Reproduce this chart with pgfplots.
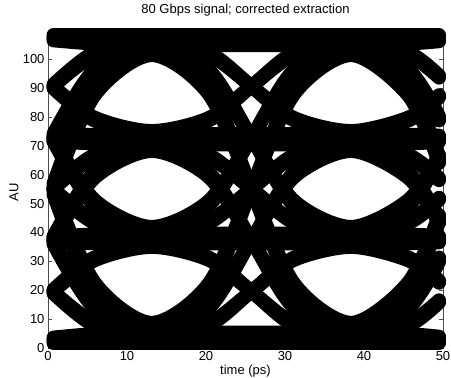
\documentclass[border=0pt]{standalone}
\usepackage{pgfplots}
\pgfplotsset{compat=1.18}
\usepackage{pgfplotstable}
\usepackage{fontspec}
\setmainfont{Liberation Sans}
\pgfplotsset{tr/.style={black, line width=14pt, line cap=round, line join=round, smooth, tension=0.5}}
\newcommand{\lab}{\fontsize{13}{15}\selectfont}

% family 1: symbol pattern A,B,A,B
\pgfplotstableread{
t     c01  c02  c03   c10  c12  c13   c20  c21  c23   c30   c31   c32
0.7   19.6 37.4 55.1  19.5 55.1 72.9  37.2 55.0 90.6  55.0  72.7  90.5
5.85  30.3 58.8 87.3  8.8  65.8 94.3  15.8 44.3 101.3 22.8  51.3  79.8
13.1  35.0 68.2 101.4 4.1  70.5 103.7 6.4  39.6 106.0 8.7   41.9  75.1
20.35 30.5 59.2 87.9  8.6  66.0 94.7  15.4 44.1 101.5 22.3  50.9  79.6
25.75 19.6 37.3 55.1  19.6 55.1 72.8  37.3 55.1 90.6  55.1  72.8  90.6
31.15 8.6  15.4 22.3  30.5 44.1 50.9  59.2 66.0 79.6  87.9  94.7  101.5
38.4  4.1  6.4  8.7   35.0 39.6 41.9  68.2 70.5 75.1  101.4 103.7 106.0
45.65 8.8  15.8 22.8  30.3 44.3 51.3  58.8 65.8 79.8  87.3  94.3  101.3
49.5  16.5 31.3 46.0  22.6 52.0 66.8  43.3 58.1 87.5  64.1  78.8  93.6
}\fone

% family 2: symbol pattern A,A,B,B
\pgfplotstableread{
t     c01  c02  c03   c10  c12  c13   c20  c21  c23   c30   c31   c32
0.7   2.4  3.0  3.6   36.7 37.9 38.5  71.6 72.2 73.4  106.5 107.1 107.7
5.85  2.8  3.8  4.8   36.3 38.3 39.3  70.8 71.8 73.8  105.4 106.3 107.3
13.1  3.0  4.1  5.3   36.2 38.5 39.6  70.5 71.7 74.0  104.8 106.0 107.2
20.35 7.8  13.8 19.8  31.3 43.3 49.3  60.8 66.8 78.8  90.3  96.3  102.3
25.75 19.6 37.3 55.1  19.6 55.1 72.8  37.3 55.1 90.6  55.1  72.8  90.6
31.15 31.3 60.8 90.3  7.8  66.8 96.3  13.8 43.3 102.3 19.8  49.3  78.8
38.4  36.2 70.5 104.8 3.0  71.7 106.0 4.1  38.5 107.2 5.3   39.6  74.0
45.65 36.3 70.8 105.4 2.8  71.8 106.3 3.8  38.3 107.3 4.8   39.3  73.8
49.5  36.6 71.4 106.2 2.5  72.1 106.9 3.2  38.0 107.6 3.9   38.7  73.5
}\ftwo

% family 3: symbol pattern A,B,B,A
\pgfplotstableread{
t     c01  c02  c03   c10  c12  c13   c20  c21  c23   c30   c31   c32
0.7   20.2 38.6 56.9  18.9 55.7 74.1  36.0 54.4 91.2  53.2  71.5  89.9
5.85  31.3 60.8 90.3  7.8  66.8 96.3  13.8 43.3 102.3 19.8  49.3  78.8
13.1  36.2 70.5 104.8 3.0  71.7 106.0 4.1  38.5 107.2 5.3   39.6  74.0
20.35 36.2 70.5 104.8 3.0  71.7 106.0 4.1  38.5 107.2 5.3   39.6  74.0
25.75 36.2 70.5 104.8 3.0  71.7 106.0 4.1  38.5 107.2 5.3   39.6  74.0
31.15 36.2 70.5 104.8 3.0  71.7 106.0 4.1  38.5 107.2 5.3   39.6  74.0
38.4  36.2 70.5 104.8 3.0  71.7 106.0 4.1  38.5 107.2 5.3   39.6  74.0
45.65 31.3 60.8 90.3  7.8  66.8 96.3  13.8 43.3 102.3 19.8  49.3  78.8
49.5  23.3 44.7 66.2  15.8 58.8 80.2  29.9 51.3 94.3  43.9  65.4  86.8
}\fthree

% flat levels
\pgfplotstableread{
t    l0  l1   l2   l3
0.7  1.8 37.3 72.8 108.3
49.5 1.8 37.3 72.8 108.3
}\flat

\begin{document}
\begin{tikzpicture}
\path[use as bounding box] (-48pt,-30pt) rectangle (403pt,348pt);
\begin{axis}[
  at={(0pt,0pt)}, anchor=south west,
  scale only axis, width=395pt, height=312pt,
  xmin=0, xmax=50, ymin=0, ymax=108,
  clip=false,
  xtick={0,10,...,50}, ytick={0,10,...,100},
  tick align=inside, major tick length=4pt,
  every tick/.style={black!70, line width=0.4pt},
  axis line style={black!70, line width=0.5pt},
  tick label style={font=\lab},
  /pgf/number format/assume math mode=true,
  title={80 Gbps signal; corrected extraction},
  title style={font=\lab, at={(axis description cs:0.5,1.053)}, anchor=base, yshift=0pt},
  xlabel={time (ps)},
  xlabel style={font=\lab, at={(axis description cs:0.5,-0.0865)}, anchor=base},
  ylabel={AU},
  ylabel style={font=\lab, at={(axis description cs:-0.0861,0.5)}, anchor=center},
]
\foreach \c in {c01,c02,c03,c10,c12,c13,c20,c21,c23,c30,c31,c32}{
  \addplot[tr] table[x=t,y=\c]{\fone};
  \addplot[tr] table[x=t,y=\c]{\ftwo};
  \addplot[tr] table[x=t,y=\c]{\fthree};
}
\foreach \c in {l0,l1,l2,l3}{
  \addplot[tr] table[x=t,y=\c]{\flat};
}
\end{axis}
\end{tikzpicture}
\end{document}
